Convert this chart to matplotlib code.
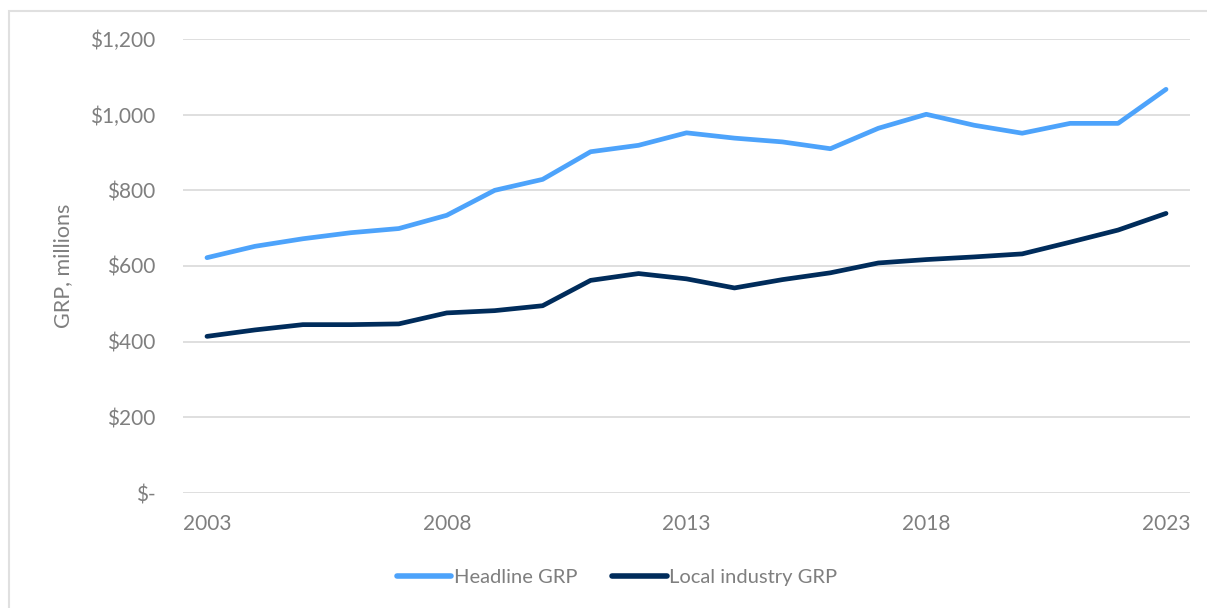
import matplotlib.pyplot as plt
from matplotlib.lines import Line2D
from matplotlib.ticker import FuncFormatter

years = list(range(2003, 2024))
headline_grp = [622, 652, 672, 688, 699, 734, 800, 829, 902, 919, 952,
                938, 928, 910, 964, 1001, 972, 951, 977, 977, 1067]
local_grp = [414, 431, 445, 445, 447, 476, 482, 495, 562, 580, 566,
             542, 564, 582, 608, 617, 624, 632, 663, 695, 739]
year_ticks = [2003, 2008, 2013, 2018, 2023]
series_names = ["Headline GRP", "Local industry GRP"]

HEADLINE_COLOR = "#4da3fb"
LOCAL_COLOR = "#002c5b"
TEXT_COLOR = "#7f7f7f"
GRID_COLOR = "#d9d9d9"

plt.rcParams['font.family'] = ['Lato', 'DejaVu Sans']

W, H = 1207, 608
fig = plt.figure(figsize=(W / 100, H / 100), dpi=100)

# chart frame (top and left edges visible)
fig.patches.append(plt.Rectangle((9 / W, -0.1), 1.2, 1 - 11 / H + 0.1,
                                 transform=fig.transFigure, fill=False,
                                 edgecolor="#e0e0e0", linewidth=1.5))

ax = fig.add_axes([183 / W, 1 - 493 / H, (1190 - 183) / W, (493 - 39) / H])

ax.plot(years, headline_grp, color=HEADLINE_COLOR, lw=3.4,
        solid_capstyle="round", solid_joinstyle="round")
ax.plot(years, local_grp, color=LOCAL_COLOR, lw=3.4,
        solid_capstyle="round", solid_joinstyle="round")

ax.set_xlim(2002.5, 2023.5)
ax.set_ylim(0, 1200)
ax.set_yticks(range(0, 1201, 200))
ax.set_xticks(year_ticks)


def dollars(v, pos):
    if v == 0:
        return "$-"
    return f"${v:,.0f}"


ax.yaxis.set_major_formatter(FuncFormatter(dollars))
ax.grid(axis="y", color=GRID_COLOR, lw=1.2)
ax.set_axisbelow(True)
for s in ax.spines.values():
    s.set_visible(False)
ax.tick_params(length=0, labelcolor=TEXT_COLOR, labelsize=15)
ax.tick_params(axis="y", pad=20)
ax.tick_params(axis="x", pad=15)

ax.set_ylabel("GRP, millions", color=TEXT_COLOR, fontsize=15.5, labelpad=12)

handles = [Line2D([], [], color=HEADLINE_COLOR, lw=4, solid_capstyle="round"),
           Line2D([], [], color=LOCAL_COLOR, lw=4, solid_capstyle="round")]
fig.legend(handles, series_names, loc="center", bbox_to_anchor=(617 / W, 1 - 577 / H),
           ncol=2, frameon=False, fontsize=14.5, labelcolor=TEXT_COLOR,
           handlelength=2.7, handletextpad=0.12, columnspacing=1.75)

fig.savefig("out.png", dpi=100)
